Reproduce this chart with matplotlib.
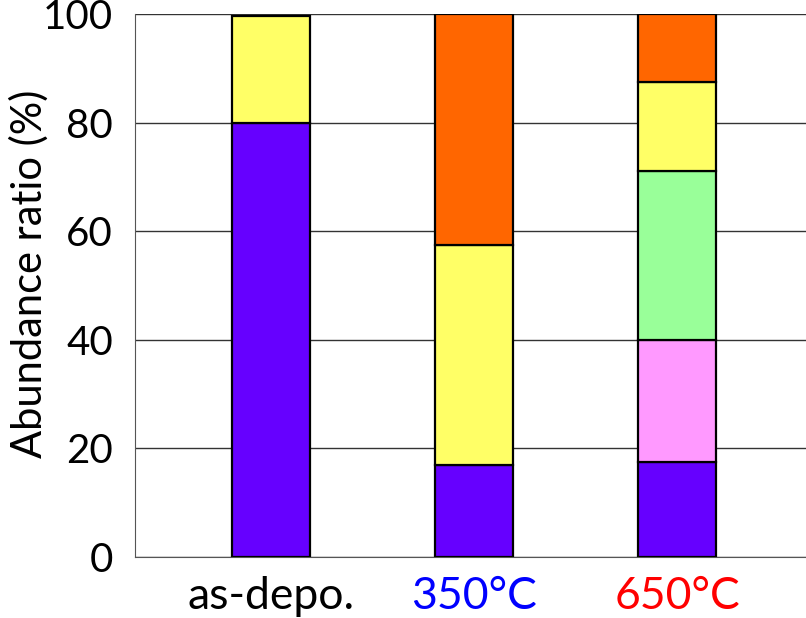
import numpy as np
import matplotlib
matplotlib.use('Agg')
import matplotlib.pyplot as plt

plt.rcParams['font.family'] = ['Lato', 'DejaVu Sans']

samples = ['as-depo.', '350°C', '650°C']
label_colors = ['black', 'blue', 'red']

# stacked segments, bottom to top (percent)
purple = [80.0, 17.0, 17.5]
pink = [0.0, 0.0, 22.5]
green = [0.0, 0.0, 31.0]
yellow = [19.6, 40.5, 16.5]
orange = [0.0, 42.5, 12.5]

layers = [purple, pink, green, yellow, orange]
colors = ['#6600FF', '#FF99FF', '#99FF99', '#FFFF66', '#FF6600']

fig = plt.figure(figsize=(8.06, 6.18), dpi=100)
ax = fig.add_axes([0.1675, 0.0987, 0.8325, 0.8786])

x = np.arange(len(samples))
bottom = np.zeros(len(samples))
for vals, c in zip(layers, colors):
    vals = np.array(vals)
    mask = vals > 0
    ax.bar(x[mask], vals[mask], width=0.385, bottom=bottom[mask],
           color=c, edgecolor='black', linewidth=1.6, zorder=3)
    bottom += vals

ax.set_xlim(-0.67, 2.635)
ax.set_ylim(0, 100)
ax.set_yticks([0, 20, 40, 60, 80, 100])
ax.yaxis.grid(True, color='#333333', linewidth=1.0, zorder=0)
ax.tick_params(axis='y', length=0, labelsize=29, pad=16)
ax.tick_params(axis='x', length=0, labelsize=32, pad=14)
ax.set_xticks(x)
ax.set_xticklabels(samples)
for lbl, c in zip(ax.get_xticklabels(), label_colors):
    lbl.set_color(c)
ax.set_ylabel('Abundance ratio (%)', fontsize=30)
ax.yaxis.set_label_coords(-0.128, 0.522)

ax.spines['right'].set_visible(False)
ax.spines['top'].set_visible(False)
ax.spines['left'].set_color('#555555')
ax.spines['bottom'].set_color('#555555')

fig.savefig('out.png', dpi=100)
